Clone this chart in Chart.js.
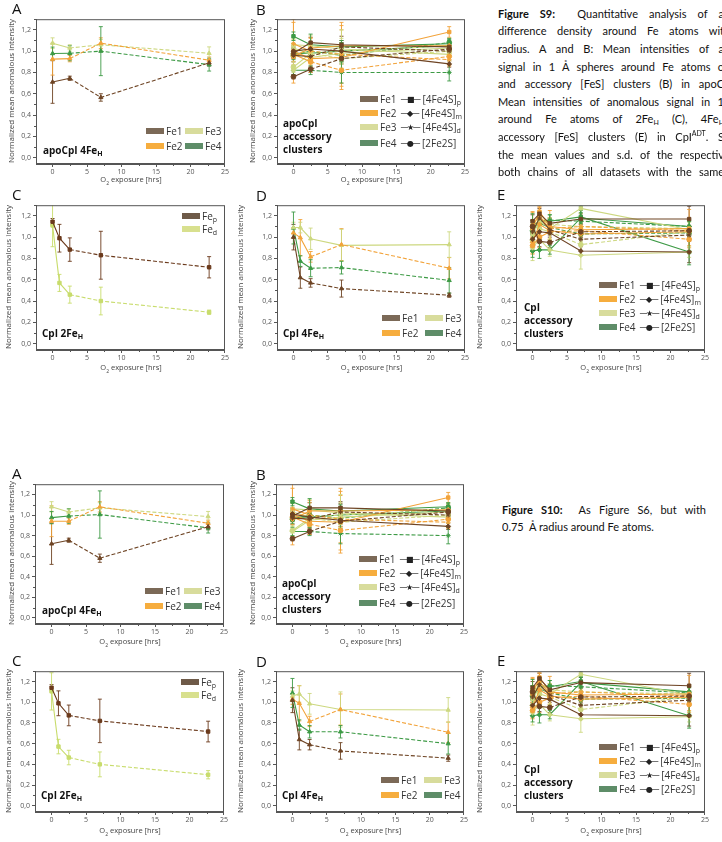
<!DOCTYPE html>
<html>
<head>
<meta charset="utf-8">
<script src="https://cdn.jsdelivr.net/npm/chart.js@4.4.1/dist/chart.umd.min.js"></script>
<style>
  body { margin: 0; width: 722px; height: 842px; overflow: hidden; position: relative; background: #fff; font-family: "Open Sans", sans-serif; }
  canvas { position: absolute; }
  .t { position: absolute; white-space: nowrap; line-height: 1; transform: translateY(-50%); color: #222; }
  .letter { font-size: 15px; color: #111; }
  .ann { font-size: 10px; font-weight: bold; color: #111; }
  .leg { font-size: 10px; color: #333; }
  .leg sub, .ann sub { font-size: 7px; vertical-align: -2px; }
  .sw { display: inline-block; width: 18px; height: 6px; margin-right: 2px; vertical-align: 1px; }
  .sym { font-family: "DejaVu Sans"; font-size: 8px; letter-spacing: -1.5px; margin: 0 3px 0 4px; vertical-align: 1px; color: #222; }
  .ytitle { font-size: 8px; color: #444; transform: translate(-50%, -50%) rotate(-90deg); }
  .xtitle { font-size: 7.5px; color: #444; transform: translate(-50%, -50%); }
  .xtitle sub { font-size: 5px; }
  .cap { position: absolute; font-family: Lato, sans-serif; font-size: 11px; line-height: 13px; height: 13px; overflow: hidden; color: #111; text-align: justify; text-align-last: justify; }
  .cap sub, .cap sup { font-size: 7px; line-height: 0; }
</style>
</head>
<body>
<script>
// ---- data ----
const yTicks = [0, 0.2, 0.4, 0.6, 0.8, 1.0, 1.2];
const xTicks = [0, 5, 10, 15, 20, 25];
const timesA = [0, 2.5, 7, 22.7];        // apoCpI
const timesC = [0, 1, 2.5, 7, 22.7];     // CpI

// Figure S9 A  (apoCpI 4FeH)
const s9A_Fe1 = [0.71, 0.745, 0.565, 0.89];
const s9A_Fe2 = [0.925, 0.93, 1.075, 0.915];
const s9A_Fe3 = [1.075, 1.03, 1.06, 0.98];
const s9A_Fe4 = [0.978, 0.98, 1.0, 0.873];
const s9A_err = [[0.2, 0.02, 0.035, 0.03], [0.15, 0.03, 0.05, 0.03], [0.05, 0.03, 0.05, 0.06], [0.06, 0.07, 0.23, 0.06]];

// Figure S9 B  (apoCpI accessory clusters) rows: [4Fe4S]p, [4Fe4S]m, [4Fe4S]d, [2Fe2S]
const s9B_Fe1 = [[0.98, 1.08, 1.06, 1.04], [1.00, 1.02, 1.00, 0.88], [0.96, 0.95, 1.04, 1.00], [0.76, 0.83, 0.93, 1.02]];
const s9B_Fe2 = [[1.00, 0.93, 0.94, 1.18], [0.95, 1.03, 1.05, 1.05], [1.07, 1.00, 0.97, 0.92], [0.97, 0.90, 0.82, 0.95]];
const s9B_Fe3 = [[1.06, 1.05, 1.02, 0.97], [0.82, 0.94, 0.98, 1.03], [1.03, 0.97, 1.00, 1.05], [0.85, 0.98, 0.93, 1.00]];
const s9B_Fe4 = [[1.14, 1.06, 1.04, 1.07], [0.98, 0.98, 1.00, 1.05], [0.82, 0.82, 0.80, 0.80], [0.96, 1.00, 0.96, 1.08]];
const errB_Fe1 = [[0.05, 0.05, 0.04, 0.03], [0.04, 0.06, 0.08, 0.03], [0.06, 0.05, 0.1, 0.04], [0.02, 0.03, 0.05, 0.04]];
const errB_Fe2 = [[0.3, 0.08, 0.3, 0.05], [0.05, 0.1, 0.15, 0.05], [0.2, 0.12, 0.3, 0.06], [0.04, 0.1, 0.12, 0.08]];
const errB_Fe3 = [[0.06, 0.1, 0.18, 0.06], [0.05, 0.06, 0.1, 0.05], [0.08, 0.05, 0.12, 0.07], [0.05, 0.08, 0.1, 0.05]];
const errB_Fe4 = [[0.04, 0.1, 0.06, 0.04], [0.04, 0.05, 0.08, 0.05], [0.04, 0.04, 0.1, 0.08], [0.04, 0.06, 0.06, 0.04]];

// Figure S9 C  (CpI 2FeH)
const s9C_Fep = [1.145, 0.99, 0.883, 0.83, 0.717];
const s9C_Fed = [1.11, 0.57, 0.46, 0.40, 0.295];
const s9C_err = [[0.03, 0.13, 0.11, 0.225, 0.1], [0.2, 0.08, 0.08, 0.13, 0.02]];

// Figure S9 D  (CpI 4FeH)
const s9D_Fe1 = [1.0, 0.62, 0.57, 0.517, 0.455];
const s9D_Fe2 = [1.04, 0.995, 0.815, 0.93, 0.708];
const s9D_Fe3 = [1.09, 1.09, 0.985, 0.923, 0.93];
const s9D_Fe4 = [1.086, 0.775, 0.708, 0.714, 0.594];
const s9D_err = [[0.12, 0.1, 0.04, 0.08, 0.02], [0.05, 0.17, 0.05, 0.15, 0.1], [0.05, 0.05, 0.1, 0.15, 0.12], [0.15, 0.05, 0.08, 0.06, 0.12]];

// Figure S9 E  (CpI accessory clusters)
const s9E_Fe1 = [[1.15, 1.22, 1.13, 1.17, 1.17], [0.98, 1.05, 1.04, 0.87, 0.86], [1.05, 1.18, 1.07, 0.98, 1.02], [1.10, 0.96, 0.95, 1.05, 1.06]];
const s9E_Fe2 = [[1.08, 1.24, 1.10, 1.07, 1.08], [0.95, 1.12, 1.06, 1.03, 1.05], [1.12, 1.20, 1.08, 1.10, 1.06], [0.92, 1.00, 1.05, 1.06, 0.98]];
const s9E_Fe3 = [[1.03, 1.15, 1.08, 1.27, 1.07], [0.90, 0.98, 0.88, 0.83, 0.86], [1.07, 1.18, 1.12, 1.10, 1.08], [0.97, 1.08, 1.05, 0.93, 1.05]];
const s9E_Fe4 = [[1.04, 1.16, 1.15, 1.19, 0.86], [0.87, 0.88, 0.88, 1.18, 1.10], [1.12, 1.14, 1.16, 1.15, 1.10], [1.06, 1.13, 1.09, 1.03, 1.04]];
const errE_Fe1 = [[0.06, 0.05, 0.05, 0.05, 0.12], [0.1, 0.08, 0.1, 0.04, 0.1], [0.05, 0.06, 0.05, 0.05, 0.05], [0.06, 0.05, 0.05, 0.05, 0.05]];
const errE_Fe2 = [[0.15, 0.05, 0.15, 0.06, 0.18], [0.1, 0.1, 0.08, 0.05, 0.06], [0.12, 0.08, 0.1, 0.05, 0.1], [0.08, 0.1, 0.1, 0.05, 0.06]];
const errE_Fe3 = [[0.1, 0.06, 0.1, 0.05, 0.1], [0.12, 0.1, 0.06, 0.13, 0.05], [0.08, 0.06, 0.06, 0.05, 0.06], [0.1, 0.08, 0.08, 0.1, 0.06]];
const errE_Fe4 = [[0.12, 0.08, 0.06, 0.1, 0.12], [0.06, 0.08, 0.04, 0.05, 0.05], [0.1, 0.06, 0.05, 0.1, 0.05], [0.1, 0.06, 0.06, 0.05, 0.04]];

// Figure S10 (0.75 A radius)
const s10A_Fe1 = [0.72, 0.755, 0.58, 0.886];
const s10A_Fe2 = [0.94, 0.94, 1.08, 0.92];
const s10A_Fe3 = [1.08, 1.03, 1.07, 0.985];
const s10A_Fe4 = [0.975, 0.99, 1.005, 0.875];
const s10A_err = [[0.2, 0.02, 0.04, 0.03], [0.15, 0.03, 0.05, 0.03], [0.05, 0.03, 0.05, 0.05], [0.06, 0.07, 0.23, 0.05]];

const s10B_Fe1 = [[0.99, 1.07, 1.07, 1.04], [1.01, 0.98, 0.95, 0.89], [0.97, 0.96, 1.03, 1.00], [0.77, 0.84, 0.94, 1.03]];
const s10B_Fe2 = [[1.01, 0.94, 0.93, 1.17], [0.96, 1.04, 1.04, 1.05], [1.06, 1.00, 0.96, 0.93], [0.98, 0.91, 0.85, 0.96]];
const s10B_Fe3 = [[1.06, 1.05, 1.02, 0.98], [0.84, 0.95, 0.98, 1.03], [1.03, 0.98, 1.00, 1.05], [0.85, 0.97, 0.93, 1.00]];
const s10B_Fe4 = [[1.13, 1.06, 1.04, 1.08], [0.98, 0.98, 1.00, 1.04], [0.84, 0.84, 0.82, 0.80], [0.96, 1.00, 0.97, 1.07]];

const s10C_Fep = [1.14, 0.99, 0.873, 0.82, 0.717];
const s10C_Fed = [1.105, 0.572, 0.466, 0.40, 0.30];
const s10C_err = [[0.03, 0.12, 0.1, 0.21, 0.1], [0.18, 0.07, 0.07, 0.12, 0.04]];

const s10D_Fe1 = [1.02, 0.64, 0.59, 0.53, 0.46];
const s10D_Fe2 = [1.03, 0.99, 0.815, 0.93, 0.71];
const s10D_Fe3 = [1.06, 1.08, 0.985, 0.93, 0.925];
const s10D_Fe4 = [1.09, 0.78, 0.715, 0.715, 0.60];
const s10D_err = [[0.12, 0.1, 0.05, 0.08, 0.03], [0.05, 0.17, 0.05, 0.15, 0.1], [0.05, 0.08, 0.1, 0.17, 0.12], [0.14, 0.05, 0.06, 0.06, 0.1]];

const s10E_Fe1 = [[1.14, 1.23, 1.12, 1.19, 1.16], [0.97, 1.04, 1.03, 0.88, 0.87], [1.05, 1.17, 1.07, 0.97, 1.02], [1.10, 0.96, 0.95, 1.05, 1.06]];
const s10E_Fe2 = [[1.08, 1.24, 1.10, 1.07, 1.08], [0.95, 1.12, 1.06, 1.03, 1.05], [1.12, 1.20, 1.08, 1.10, 1.06], [0.92, 1.00, 1.04, 1.06, 0.98]];
const s10E_Fe3 = [[1.03, 1.15, 1.08, 1.27, 1.07], [0.90, 0.98, 0.88, 0.84, 0.86], [1.07, 1.18, 1.12, 1.10, 1.08], [0.97, 1.08, 1.05, 0.93, 1.05]];
const s10E_Fe4 = [[1.04, 1.16, 1.15, 1.20, 0.87], [0.87, 0.88, 0.88, 1.19, 1.10], [1.12, 1.14, 1.16, 1.15, 1.09], [1.06, 1.13, 1.09, 1.03, 1.04]];

const feNames = ['Fe1', 'Fe2', 'Fe3', 'Fe4'];
const clusterLabels = ['[4Fe4S]<sub>p</sub>', '[4Fe4S]<sub>m</sub>', '[4Fe4S]<sub>d</sub>', '[2Fe2S]'];

// ---- styling ----
const lineCol = ['#6e4424', '#f2a33a', '#cdd880', '#3d9a45'];
const swatchCol = ['#7b6957', '#f6ad3e', '#d8dc9c', '#5e8d68'];
const fepCol = '#6b3a1c', fedCol = '#c8dc6c';
const clusterMarker = ['rect', 'rectRot', 'star', 'circle'];
const clusterDashed = [false, false, true, true];
const clusterGlyph = ['■', '◆', '★', '●'];
const frameCol = '#555';

function txt(html, x, y, cls, css) {
  const d = document.createElement('div');
  d.className = 't ' + (cls || '');
  d.innerHTML = html;
  d.style.left = x + 'px';
  d.style.top = y + 'px';
  Object.assign(d.style, css || {});
  document.body.appendChild(d);
  return d;
}

const panelDeco = {
  id: 'panelDeco',
  beforeDatasetsDraw(chart) {
    const { ctx, chartArea: a, scales: { x, y } } = chart;
    ctx.save();
    ctx.beginPath();
    ctx.rect(a.left, a.top, a.right - a.left, a.bottom - a.top);
    ctx.clip();
    ctx.lineWidth = 0.9;
    chart.data.datasets.forEach(ds => {
      ctx.strokeStyle = ds.borderColor;
      ds.data.forEach((p, i) => {
        const e = ds.err[i];
        if (!e) return;
        const px = x.getPixelForValue(p.x);
        const y0 = y.getPixelForValue(p.y - e), y1 = y.getPixelForValue(p.y + e);
        ctx.beginPath();
        ctx.moveTo(px, y0); ctx.lineTo(px, y1);
        ctx.moveTo(px - 2, y0); ctx.lineTo(px + 2, y0);
        ctx.moveTo(px - 2, y1); ctx.lineTo(px + 2, y1);
        ctx.stroke();
      });
    });
    ctx.restore();
  },
  afterDraw(chart) {
    const { ctx, chartArea: a, scales: { x, y } } = chart;
    ctx.save();
    ctx.strokeStyle = frameCol;
    ctx.lineWidth = 1;
    ctx.strokeRect(a.left + 0.5, a.top + 0.5, a.right - a.left - 1, a.bottom - a.top - 1);
    ctx.beginPath();
    yTicks.forEach(v => {
      const py = Math.round(y.getPixelForValue(v + 0.1)) + 0.5;
      if (py > a.top) { ctx.moveTo(a.left - 2, py); ctx.lineTo(a.left, py); }
    });
    xTicks.slice(0, -1).forEach(v => {
      const px = Math.round(x.getPixelForValue(v + 2.5)) + 0.5;
      ctx.moveTo(px, a.bottom); ctx.lineTo(px, a.bottom + 2);
    });
    ctx.stroke();
    ctx.restore();
  }
};

function series(xs, ys, es, color, marker, dashed) {
  return { x: xs, y: ys, e: es, color, marker, dashed };
}

function makePanel(f, sets, yTitleX, xTitleY) {
  const padL = 30, padT = 4, padR = 4, padB = 16;
  const cv = document.createElement('canvas');
  cv.width = f.R - f.L + padL + padR;
  cv.height = f.B - f.T + padT + padB;
  cv.style.left = (f.L - padL) + 'px';
  cv.style.top = (f.T - padT) + 'px';
  document.body.appendChild(cv);
  const tickFont = { family: 'Open Sans', size: 7 };
  new Chart(cv, {
    type: 'line',
    data: {
      datasets: sets.map(s => ({
        data: s.x.map((v, i) => ({ x: v, y: s.y[i] })),
        err: s.e,
        borderColor: s.color,
        backgroundColor: s.color,
        borderWidth: 1.1,
        pointStyle: s.marker,
        pointRadius: 2.4,
        pointBorderWidth: 1,
        tension: 0,
        segment: { borderDash: c => (s.dashed && c.p1.parsed.x - c.p0.parsed.x > 4 ? [4, 2] : undefined) }
      }))
    },
    options: {
      responsive: false,
      animation: false,
      devicePixelRatio: 1,
      layout: { padding: { left: 0, top: padT, right: padR, bottom: 0 } },
      plugins: { legend: { display: false }, tooltip: { enabled: false } },
      scales: {
        x: {
          type: 'linear', min: -2.4, max: 25,
          afterFit: s => { s.height = padB; },
          afterBuildTicks: s => { s.ticks = xTicks.map(v => ({ value: v })); },
          ticks: { font: tickFont, color: '#555', padding: 1, maxRotation: 0 },
          grid: { drawOnChartArea: false, tickLength: 3, color: frameCol },
          border: { color: frameCol }
        },
        y: {
          type: 'linear', min: -0.06, max: 1.3,
          afterFit: s => { s.width = padL; },
          afterBuildTicks: s => { s.ticks = yTicks.map(v => ({ value: v })); },
          ticks: { font: tickFont, color: '#555', padding: 2, callback: v => v.toFixed(1).replace('.', ',') },
          grid: { drawOnChartArea: false, tickLength: 3, color: frameCol },
          border: { color: frameCol }
        }
      }
    },
    plugins: [panelDeco]
  });
  txt('Normalized mean anomalous intensity', yTitleX, (f.T + f.B) / 2, 'ytitle');
  txt('O<sub>2</sub> exposure [hrs]', (f.L + f.R) / 2, xTitleY, 'xtitle');
}

function fourFe(xs, arrs, errs, solidIdx) {
  return arrs.map((a, i) => series(xs, a, errs[i], lineCol[i], 'triangle', i !== solidIdx));
}
function clusters(xs, feArrs, feErrs) {
  const out = [];
  feArrs.forEach((rows, i) => rows.forEach((r, k) =>
    out.push(series(xs, r, feErrs[i][k], lineCol[i], clusterMarker[k], clusterDashed[k]))));
  return out;
}

function legItem(x, y, color, html) {
  txt('<span class="sw" style="background:' + color + '"></span>' + html, x, y, 'leg');
}
function legend2x2(f, dx1, dx2, dy1, dy2) {
  legItem(f.R - dx1, f.B - dy1, swatchCol[0], feNames[0]);
  legItem(f.R - dx2, f.B - dy1, swatchCol[2], feNames[2]);
  legItem(f.R - dx1, f.B - dy2, swatchCol[1], feNames[1]);
  legItem(f.R - dx2, f.B - dy2, swatchCol[3], feNames[3]);
}
function legendClusters(f, dx, dys) {
  feNames.forEach((n, i) => legItem(f.R - dx, f.B - dys[i], swatchCol[i],
    n + '<span class="sym">—' + clusterGlyph[i] + '—</span>' + clusterLabels[i]));
}

function figure(r, d, yTop, yBot) {
  makePanel(r.A, fourFe(timesA, d.A, d.Aerr, -1), 11, yTop);
  makePanel(r.B, clusters(timesA, d.B, [errB_Fe1, errB_Fe2, errB_Fe3, errB_Fe4]), 252, yTop);
  makePanel(r.C, [series(timesC, d.C[0], d.Cerr[0], fepCol, 'rect', true), series(timesC, d.C[1], d.Cerr[1], fedCol, 'rect', true)], 8, yBot);
  makePanel(r.D, fourFe(timesC, d.D, d.Derr, 2), 240, yBot);
  makePanel(r.E, clusters(timesC, d.E, [errE_Fe1, errE_Fe2, errE_Fe3, errE_Fe4]), 479, yBot);

  txt('A', 12, r.A.T - 9, 'letter');
  txt('B', 256, r.B.T - 8, 'letter');
  txt('C', 12, r.C.T - 9, 'letter');
  txt('D', 256, r.D.T - 8, 'letter');
  txt('E', 497, r.E.T - 9, 'letter');

  txt('apoCpI 4Fe<sub>H</sub>', r.A.L + 7, r.A.B - 13, 'ann');
  legend2x2(r.A, 80, 41, 33, 18);

  txt('apoCpI', r.B.L + 6, r.B.B - 41, 'ann');
  txt('accessory', r.B.L + 6, r.B.B - 28, 'ann');
  txt('clusters', r.B.L + 6, r.B.B - 15, 'ann');
  legendClusters(r.B, 106, [64, 50, 36, 21]);

  txt('CpI 2Fe<sub>H</sub>', r.C.L + 6, r.C.B - 16, 'ann');
  legItem(r.C.R - 44, r.C.T + 14, '#6e5a48', 'Fe<sub>p</sub>');
  legItem(r.C.R - 44, r.C.T + 27, '#d8e08e', 'Fe<sub>d</sub>');

  txt('CpI 4Fe<sub>H</sub>', r.D.L + 6, r.D.B - 16, 'ann');
  legend2x2(r.D, 84, 41, 32, 17);

  txt('CpI', r.E.L + 8, r.E.B - 43, 'ann');
  txt('accessory', r.E.L + 8, r.E.B - 30, 'ann');
  txt('clusters', r.E.L + 8, r.E.B - 17, 'ann');
  legendClusters(r.E, 107, [64, 50, 36, 23]);
}

figure(
  { A: { L: 36, T: 17, R: 226, B: 164 }, B: { L: 277, T: 17, R: 466, B: 164 },
    C: { L: 36, T: 203, R: 226, B: 350 }, D: { L: 277, T: 203, R: 466, B: 350 }, E: { L: 516, T: 203, R: 706, B: 350 } },
  { A: [s9A_Fe1, s9A_Fe2, s9A_Fe3, s9A_Fe4], Aerr: s9A_err,
    B: [s9B_Fe1, s9B_Fe2, s9B_Fe3, s9B_Fe4],
    C: [s9C_Fep, s9C_Fed], Cerr: s9C_err,
    D: [s9D_Fe1, s9D_Fe2, s9D_Fe3, s9D_Fe4], Derr: s9D_err,
    E: [s9E_Fe1, s9E_Fe2, s9E_Fe3, s9E_Fe4] },
  181, 369);

figure(
  { A: { L: 35, T: 482, R: 225, B: 624 }, B: { L: 276, T: 482, R: 465, B: 624 },
    C: { L: 35, T: 669, R: 225, B: 812 }, D: { L: 276, T: 669, R: 465, B: 812 }, E: { L: 516, T: 669, R: 706, B: 812 } },
  { A: [s10A_Fe1, s10A_Fe2, s10A_Fe3, s10A_Fe4], Aerr: s10A_err,
    B: [s10B_Fe1, s10B_Fe2, s10B_Fe3, s10B_Fe4],
    C: [s10C_Fep, s10C_Fed], Cerr: s10C_err,
    D: [s10D_Fe1, s10D_Fe2, s10D_Fe3, s10D_Fe4], Derr: s10D_err,
    E: [s10E_Fe1, s10E_Fe2, s10E_Fe3, s10E_Fe4] },
  643, 832);

// ---- captions ----
const capS9 = [
  '<b>Figure S9:</b>&nbsp; Quantitative analysis of a',
  'difference density around Fe atoms wit',
  'radius. A and B: Mean intensities of a',
  'signal in 1 Å spheres around Fe atoms o',
  'and accessory [FeS] clusters (B) in apoC',
  'Mean intensities of anomalous signal in 1',
  'around Fe atoms of 2Fe<sub>H</sub> (C), 4Fe<sub>H</sub>',
  'accessory [FeS] clusters (E) in CpI<sup>ADT</sup>. S',
  'the mean values and s.d. of the respectiv',
  'both chains of all datasets with the same'
];
capS9.forEach((line, i) => {
  const d = document.createElement('div');
  d.className = 'cap';
  d.innerHTML = line;
  d.style.left = '498px';
  d.style.width = '226px';
  d.style.top = (6.8 + i * 17.6) + 'px';
  document.body.appendChild(d);
});
['<b>Figure S10:</b>&nbsp; As Figure S6, but with', '0.75&nbsp; Å radius around Fe atoms.'].forEach((line, i) => {
  const d = document.createElement('div');
  d.className = 'cap';
  d.innerHTML = line;
  d.style.left = '502px';
  d.style.width = '204px';
  d.style.top = (502.5 + i * 17.7) + 'px';
  if (i === 1) d.style.textAlignLast = 'left';
  document.body.appendChild(d);
});
</script>
</body>
</html>
